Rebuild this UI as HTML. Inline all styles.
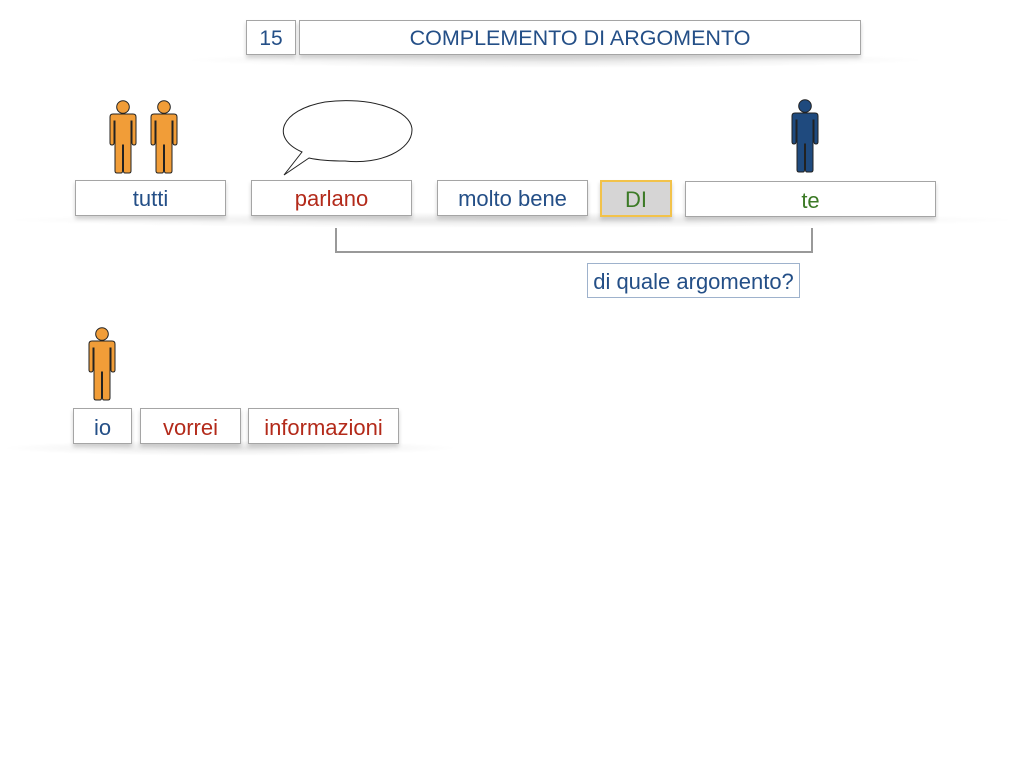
<!DOCTYPE html>
<html><head><meta charset="utf-8"><style>
body{margin:0;width:1024px;height:768px;background:#fff;position:relative;overflow:hidden;font-family:"Liberation Sans",sans-serif}
.b{position:absolute;box-sizing:border-box;background:#fff;border:1px solid #a5a5a5;text-align:center;font-size:22px;box-shadow:0 3px 4px rgba(0,0,0,0.18)}
.sh{position:absolute;height:16px;background:radial-gradient(ellipse at center,rgba(0,0,0,0.10),rgba(0,0,0,0) 70%)}
.bl{color:#244f87}.rd{color:#b32a1a}.gr{color:#3c7a26}
svg{position:absolute;left:0;top:0}
</style></head><body>
<div class="sh" style="left:180px;top:52px;width:750px"></div>
<div class="sh" style="left:0;top:212px;width:1024px"></div>
<div class="sh" style="left:0;top:440px;width:460px"></div>
<div class="b bl" style="left:246px;top:20px;width:50px;height:35px;line-height:35px;font-size:21px">15</div>
<div class="b bl" style="left:299px;top:20px;width:562px;height:35px;line-height:35px;font-size:21.5px">COMPLEMENTO DI ARGOMENTO</div>

<div class="b bl" style="left:75px;top:180px;width:151px;height:36px;line-height:36px">tutti</div>
<div class="b rd" style="left:251px;top:180px;width:161px;height:36px;line-height:36px">parlano</div>
<div class="b bl" style="left:437px;top:180px;width:151px;height:36px;line-height:36px">molto bene</div>
<div class="b gr" style="left:600px;top:180px;width:72px;height:37px;line-height:35px;background:#d6d5d5;border:2px solid #f2c24a">DI</div>
<div class="b gr" style="left:685px;top:181px;width:251px;height:36px;line-height:38px">te</div>
<div class="b bl" style="left:587px;top:263px;width:213px;height:35px;line-height:35px;border-color:#9eb2cc;box-shadow:none">di quale argomento?</div>

<div class="b bl" style="left:73px;top:408px;width:59px;height:36px;line-height:38px">io</div>
<div class="b rd" style="left:140px;top:408px;width:101px;height:36px;line-height:38px">vorrei</div>
<div class="b rd" style="left:248px;top:408px;width:151px;height:36px;line-height:38px">informazioni</div>

<svg width="1024" height="768">
<defs>
<symbol id="p" viewBox="0 0 28 74">
<circle cx="14" cy="7" r="6.3" stroke="#222" stroke-width="1"/>
<path d="M4 14 H24 Q27 14 27 17 V43 Q27 45 25 45 Q23 45 23 43 V21 H22 V71 Q22 73 20 73 H16 Q14.5 73 14.5 71 V45 H13.5 V71 Q13.5 73 12 73 H8 Q6 73 6 71 V21 H5 V43 Q5 45 3 45 Q1 45 1 43 V17 Q1 14 4 14 Z" stroke="#222" stroke-width="1"/>
</symbol>
</defs>
<use href="#p" x="109" y="100" width="28" height="74" fill="#f19d38"/>
<use href="#p" x="150" y="100" width="28" height="74" fill="#f19d38"/>
<use href="#p" x="791" y="99" width="28" height="74" fill="#1f4a7e"/>
<use href="#p" x="88" y="327" width="28" height="74" fill="#f19d38"/>
<path d="M284 175 L302 152 C270 138 280 110 325 102 C370 96 412 110 412 130 C412 150 380 165 345 161 C330 161 318 160 309 158 Z" fill="#fff" stroke="#222" stroke-width="1"/>
<path d="M336 228 V252 H812 V228" fill="none" stroke="#999" stroke-width="2"/>
</svg>
</body></html>
